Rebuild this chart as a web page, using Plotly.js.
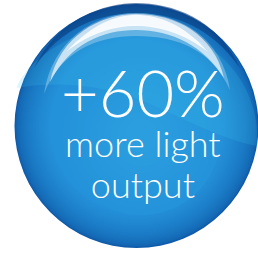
<!DOCTYPE html>
<html>
<head>
<meta charset="utf-8">
<script src="https://cdn.plot.ly/plotly-3.0.1.min.js"></script>
<style>html,body{margin:0;padding:0;background:#fff;}#chart{width:258px;height:253px;}</style>
</head>
<body>
<div id="chart"></div>
<script>
// Text content of the badge
var headline = ["+60%"];
var sublines = ["more light", "output"];

var W = 258, H = 253;
var cx = 136.5, cy = 126, R = 122;

function mix(a, b, t) {
  var r = Math.round(a[0] + (b[0] - a[0]) * t);
  var g = Math.round(a[1] + (b[1] - a[1]) * t);
  var bb = Math.round(a[2] + (b[2] - a[2]) * t);
  return 'rgb(' + r + ',' + g + ',' + bb + ')';
}

var shapes = [];
// base disc with edge vignette
var edge = [16, 92, 170], mid = [36, 146, 218], inner = [42, 158, 222];
var N = 24;
for (var i = 0; i <= N; i++) {
  var t = i / N;
  var r = R - t * 36;
  shapes.push({type: 'circle', xref: 'x', yref: 'y', x0: cx - r, x1: cx + r, y0: cy - r, y1: cy + r,
    fillcolor: mix(edge, mid, Math.pow(t, 0.55)), line: {width: 0}, layer: 'below'});
}
for (var j = 1; j <= 10; j++) {
  var t2 = j / 10;
  var r2 = (R - 36) * (1 - t2 * 0.8);
  shapes.push({type: 'circle', xref: 'x', yref: 'y', x0: cx + 5 - r2, x1: cx + 5 + r2, y0: cy + 10 - r2, y1: cy + 10 + r2,
    fillcolor: mix(mid, inner, t2), line: {width: 0}, layer: 'below'});
}
// lighter cyan upper region with wavy lower edge
shapes.push({type: 'path', xref: 'x', yref: 'y',
  path: 'M 17,88 C 60,80 110,86 150,104 C 190,122 225,140 257,146 C 262,90 220,28 136,24 C 60,27 22,70 17,88 Z',
  fillcolor: 'rgba(60,200,240,0.18)', line: {width: 0}, layer: 'below'});
// dark top rim
shapes.push({type: 'path', xref: 'x', yref: 'y',
  path: 'M 34,68 C 58,18 105,3 136,3 C 172,3 217,18 240,68 C 212,28 175,13 136,13 C 100,13 60,28 34,68 Z',
  fillcolor: 'rgba(8,58,125,0.6)', line: {width: 0}, layer: 'below'});
// gloss highlight (soft wide + bright core)
shapes.push({type: 'path', xref: 'x', yref: 'y',
  path: 'M 44,94 C 52,40 95,13 136,13 C 180,13 222,38 230,90 C 212,50 178,36 136,36 C 96,36 60,52 44,94 Z',
  fillcolor: 'rgba(255,255,255,0.28)', line: {width: 0}, layer: 'below'});
shapes.push({type: 'path', xref: 'x', yref: 'y',
  path: 'M 50,82 C 60,36 100,14 136,14 C 176,14 214,34 224,78 C 204,46 172,30 136,30 C 102,30 70,44 50,82 Z',
  fillcolor: 'rgba(255,255,255,0.65)', line: {width: 0}, layer: 'below'});
shapes.push({type: 'path', xref: 'x', yref: 'y',
  path: 'M 66,52 C 92,24 116,15 136,15 C 158,15 184,24 208,52 C 184,33 158,26 136,26 C 114,26 90,33 66,52 Z',
  fillcolor: 'rgba(255,255,255,0.85)', line: {width: 0}, layer: 'below'});

var fontFam = '"Lato Light", Lato, "Open Sans", sans-serif';
var txt = '<span style="font-size:65px">' + headline[0] + '</span><br>' +
          '<span style="font-size:36px">' + sublines[0] + '</span><br>' +
          '<span style="font-size:36px">' + sublines[1] + '</span>';
var annotations = [
  {text: txt, x: 143, y: 129, xref: 'x', yref: 'y', showarrow: false, align: 'center',
   font: {family: fontFam, size: 31, color: '#ffffff', weight: 300}, xanchor: 'center', yanchor: 'middle'}
];

var layout = {
  width: W, height: H,
  margin: {l: 0, r: 0, t: 0, b: 0},
  paper_bgcolor: '#ffffff', plot_bgcolor: '#ffffff',
  xaxis: {range: [0, W], visible: false, fixedrange: true},
  yaxis: {range: [H, 0], visible: false, fixedrange: true},
  shapes: shapes,
  annotations: annotations,
  showlegend: false
};

Plotly.newPlot('chart', [{x: [], y: [], type: 'scatter', hoverinfo: 'skip'}], layout, {staticPlot: true, displayModeBar: false});
</script>
</body>
</html>
